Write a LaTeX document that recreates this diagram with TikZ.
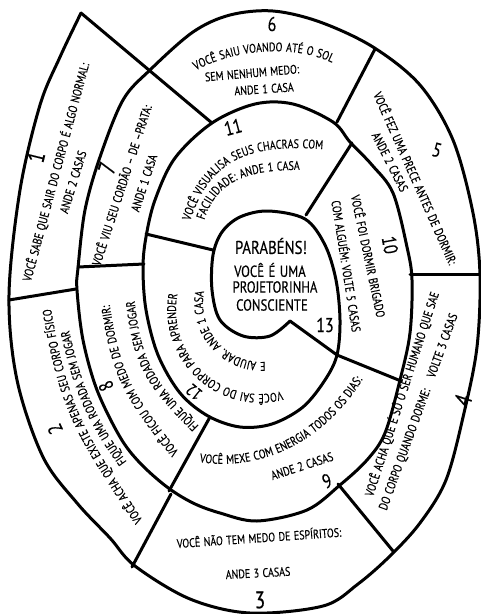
\documentclass[tikz,border=0pt]{standalone}
\usepackage{fontspec}
\newfontfamily\boardfont{PT Sans}[FakeStretch=0.8, FakeBold=0.3, WordSpace=1.3]
\newcommand\smalltxt{\boardfont\fontsize{12.5}{14}\selectfont}
\newcommand\goaltxt{\boardfont\fontsize{16}{18}\selectfont}
\newcommand\numtxt{\boardfont\fontsize{20}{20}\selectfont}
\usetikzlibrary{decorations.text}

\begin{document}
\begin{tikzpicture}[
  x=1pt, y=-1pt,
  wall/.style = {line width=3pt, line cap=round, line join=round},
  txt/.style = {font=\smalltxt, inner sep=0pt},
  num/.style = {font=\numtxt, inner sep=0pt},
  bignum/.style = {num, font=\boardfont\fontsize{24}{24}\selectfont},
  goal/.style = {font=\goaltxt, inner sep=0pt},
  curved/.style = {decorate, decoration={text along path, text align=center,
      text={|\smalltxt|#1}}}
  ]
  \useasboundingbox (0,0) rectangle (480,614);
  % the spiral wall, from the start of square 1 to the notch of square 13
  \draw[wall] plot[smooth, tension=0.55] coordinates {
    (81,13) (60,57) (40,105) (20,190) (9,295) (17,380) (43,457) (77,503)
    (110,538) (135,566) (190,599) (250,613) (323,606) (358,584) (390,556)
    (420,523) (446,480) (464,413) (477,347) (480,275) (473,213) (453,140)
    (420,85) (373,47) (320,22) (273,11) (230,15) (193,32) (150,70)
    (123,100) (100,157) (85,210) (78,268) (77,290) (83,340) (97,390) (120,437)
    (140,463) (167,487) (193,503) (220,513) (257,521) (307,510) (340,485)
    (367,460) (385,433) (400,380) (410,333) (412,280) (407,247) (393,193)
    (372,165) (350,142) (333,122) (293,104) (255,104) (212,123)
    (175,158) (155,200) (146,237) (143,268) (146,310) (158,355) (180,393)
    (208,416) (240,427) (272,424) (303,407) (325,380) (337,355) (340,320)
    (336,280) (325,245) (305,219) (268,211) (240,217) (222,232) (213,255)
    (212,290) (220,320) (243,336) (270,336) (290,321)};
  % lines between the squares
  \foreach \xa/\ya/\xb/\yb in {81/13/212/123, 9/300/76/289, 78/267/144/264,
      146/234/213/250, 132/567/171/494, 169/491/210/417, 338/484/393/551,
      290/321/337/355, 337/355/401/381, 410/274/480/274, 306/215/352/143,
      337/122/375/49}
    \draw[wall] (\xa,\ya) -- (\xb,\yb);

  % outer ring
  \node[bignum, rotate=76] (n1) at (36,157) {1};
  \node[txt, rotate=75] (t1a) at (56,172) {VOCÊ SABE QUE SAIR DO CORPO É ALGO NORMAL:};
  \node[txt, rotate=73] (t1b) at (73,182) {ANDE 2 CASAS};
  \node[num, rotate=115] (n2) at (55,429) {2};
  \path[curved={VOCÊ ACHA QUE EXISTE APENAS SEU CORPO FÍSICO}]
    (150,531) .. controls (85.5,432.7) and (67.6,413.9) .. (49,296);
  \path[curved={FIQUE UMA RODADA SEM JOGAR}]
    (130,466) .. controls (94,418) and (80.6,384.2) .. (68,325);
  \node[bignum] (n3) at (260,600) {3};
  \node[txt, rotate=4] (t3a) at (259,537) {VOCÊ NÃO TEM MEDO DE ESPÍRITOS:};
  \node[txt, rotate=3] (t3b) at (258,573) {ANDE 3 CASAS};
  \node[bignum, rotate=72] (n4) at (463,400) {4};
  \node[txt, rotate=72] (t4a) at (402,394) {VOCÊ ACHA QUE É SÓ O SER HUMANO QUE SAE};
  \node[txt, rotate=70] (t4b) at (419,412) {DO CORPO QUANDO DORME:\quad VOLTE 3 CASAS};
  \node[num, rotate=-15] (n5) at (437,150) {5};
  \node[txt, rotate=-66] (t5a) at (416,178) {VOCÊ FEZ UMA PRECE ANTES DE DORMIR:};
  \node[txt, rotate=-63] (t5b) at (390,162) {ANDE 2 CASAS};
  \node[num] (n6) at (272,24) {6};
  \path[curved={VOCÊ SAIU VOANDO ATÉ O SOL}]
    (190,74) .. controls (230,48) and (300,43) .. (338,66);
  \node[txt, rotate=5] (t6b) at (252,73) {SEM NENHUM MEDO:};
  \node[txt, rotate=4] (t6c) at (264,89) {ANDE 1 CASA};

  % middle ring
  \node[bignum, rotate=72] (n7) at (107,168) {7};
  \node[txt, rotate=72] (t7a) at (121,185) {VOCÊ VIU SEU CORDÃO – DE –PRATA:};
  \node[txt, rotate=72] (t7b) at (144,183) {ANDE 1 CASA};
  \node[num, rotate=115] (n8) at (106,386) {8};
  \path[curved={VOCÊ FICOU COM MEDO DE DORMIR:}]
    (182,456) .. controls (132.4,392.8) and (121,379.2) .. (109,300);
  \path[curved={FIQUE UMA RODADA SEM JOGAR}]
    (203,430) .. controls (153.3,380.3) and (141,364.3) .. (134,295);
  \node[num, rotate=20] (n9) at (327,481) {9};
  \path[curved={VOCÊ MEXE COM ENERGIA TODOS OS DIAS:}]
    (193,461) .. controls (260,474) and (326,442) .. (366,374);
  \node[txt, rotate=18] (t9b) at (302,466) {ANDE 2 CASAS};
  \node[num, rotate=-80] (n10) at (390,245) {10};
  \node[txt, rotate=-78] (t10a) at (369,256) {VOCÊ FOI DORMIR BRIGADO};
  \node[txt, rotate=-81] (t10b) at (347,266) {COM ALGUÉM: VOLTE 5 CASAS};
  \node[num, rotate=15] (n11) at (233,127) {11};
  \path[curved={VOCÊ VISUALISA SEUS CHACRAS COM}]
    (188,228) .. controls (205,170) and (235,140) .. (330,150);
  \path[curved={FACILIDADE: ANDE 1 CASA}]
    (202,228) .. controls (212,188) and (235,168) .. (308,170);

  % inner ring and goal
  \node[num, font=\boardfont\fontsize{17}{17}\selectfont, rotate=141] (n12) at (194,392) {12};
  \path[curved={VOCÊ SAI DO CORPO PARA APRENDER}]
    ([shift={(68:84)}]260,310) arc[start angle=68, end angle=198, radius=84];
  \path[curved={E AJUDAR. ANDE 1 CASA}]
    ([shift={(78:59)}]262,303) arc[start angle=78, end angle=200, radius=59];
  \node[goal, font=\boardfont\fontsize{18.5}{20}\selectfont] (g1) at (271,246) {PARABÉNS!};
  \node[goal] (g2) at (270,270) {VOCÊ É UMA};
  \node[goal] (g3) at (275,287) {PROJETORINHA};
  \node[goal] (g4) at (272,305) {CONSCIENTE};
  \node[num] (n13) at (325,325) {13};
\end{tikzpicture}
\end{document}
